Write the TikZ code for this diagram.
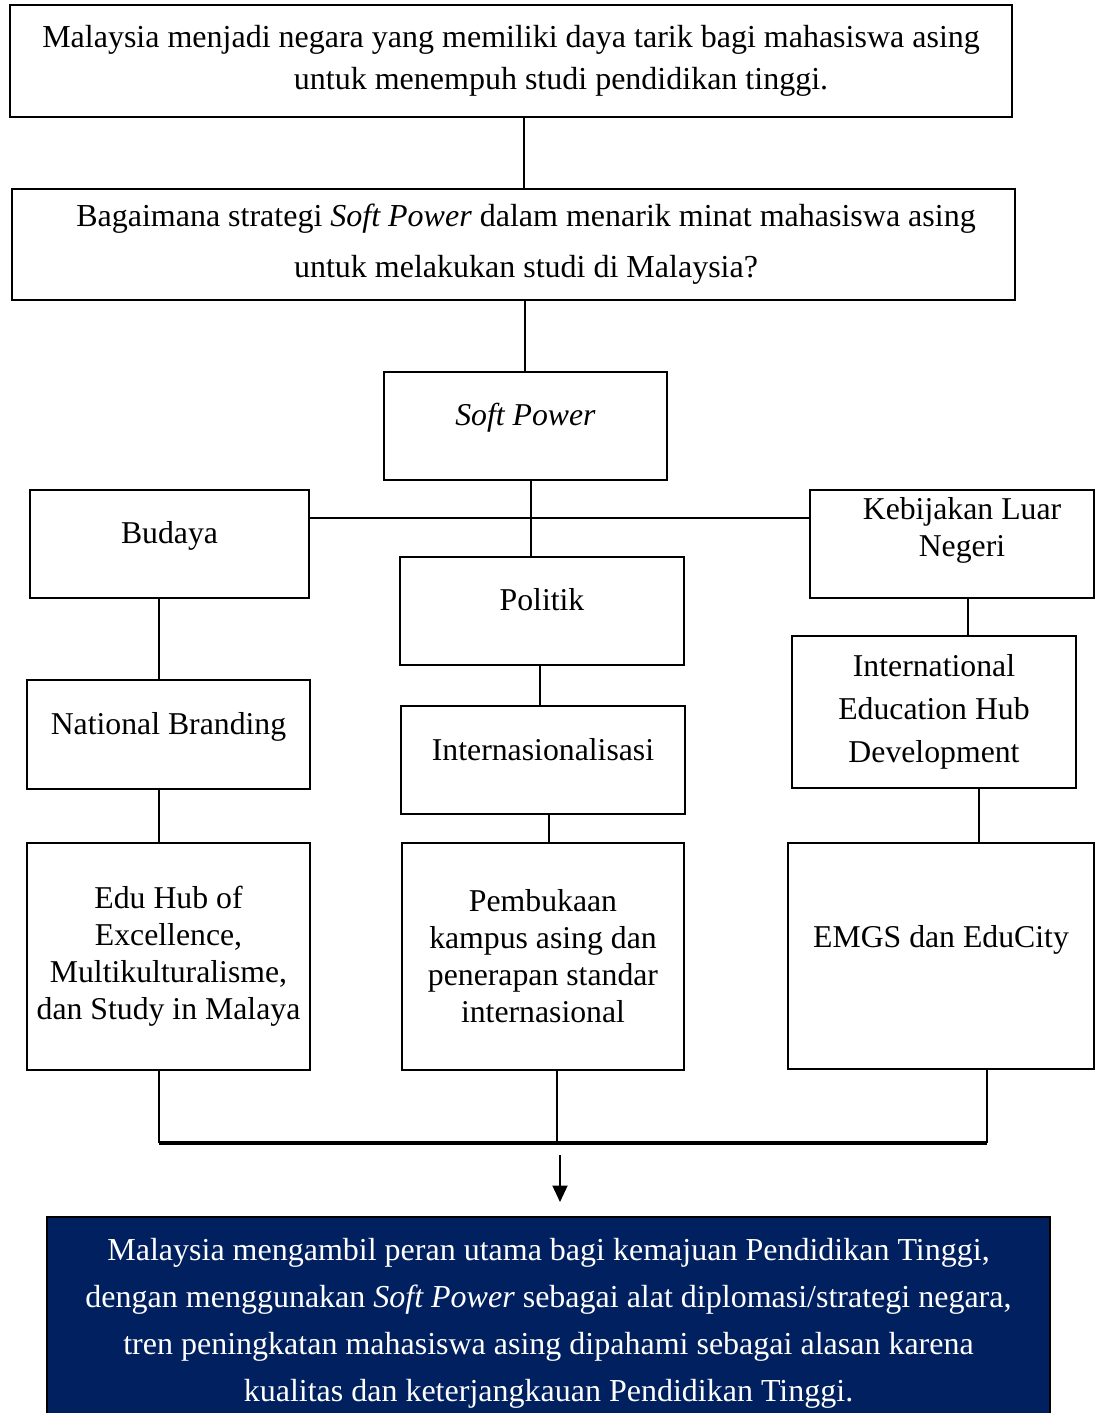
\documentclass[tikz,border=0pt]{standalone}
\usepackage{fontspec}
\setmainfont{Liberation Serif}
\usetikzlibrary{arrows.meta, positioning, calc}
\newcommand{\pxu}{0.4pt}
\definecolor{navyblue}{HTML}{002060}

\begin{document}
\begin{tikzpicture}[
		x=\pxu, y=-\pxu,
		box/.style 2 args={draw, line width=0.8pt, minimum width=#1*\pxu, minimum height=#2*\pxu, align=center, inner sep=2pt},
		txt/.style 2 args={font=\fontsize{#1}{#2}\selectfont},
		lift/.style={text depth=#1*\pxu},
		conn/.style={line width=0.8pt},
		txt={12.7}{14.8}
	]
	\useasboundingbox (0,0) rectangle (1099,1413);

	\node[box={1002}{112}, txt={12.8}{16.8}] (top) at (511,61) {Malaysia menjadi negara yang memiliki daya tarik bagi mahasiswa asing\\ \hspace*{40pt}untuk menempuh studi pendidikan tinggi.};
	\node[box={1003}{111}, txt={12.8}{20.4}] (question) at (513.5,244.5) {\hspace*{10pt}Bagaimana strategi \textit{Soft Power} dalam menarik minat mahasiswa asing\\ \hspace*{10pt}untuk melakukan studi di Malaysia?};
	\node[box={283}{108}, lift=23] (soft) at (525.5,426) {\textit{Soft Power}};

	\node[box={279}{108}, lift=23] (budaya) at (169.5,544) {Budaya};
	\node[box={284}{108}, lift=23] (politik) at (542,611) {Politik};
	\node[box={284}{108}, lift=35] (kebijakan) at (952,544) {\hspace*{8pt}Kebijakan Luar\\ \hspace*{8pt}Negeri};

	\node[box={283}{109}, lift=23] (branding) at (168.5,734.5) {National Branding};
	\node[box={284}{108}, lift=21] (intl) at (543,760) {Internasionalisasi};
	\node[box={284}{152}, txt={12.7}{17.2}] (hub) at (934,712) {International\\ Education Hub\\ Development};

	\node[box={283}{227}] (eduhub) at (168.5,956.5) {Edu Hub of\\ Excellence,\\ Multikulturalisme,\\ dan Study in Malaya};
	\node[box={282}{227}] (kampus) at (543,956.5) {Pembukaan\\ kampus asing dan\\ penerapan standar\\ internasional};
	\node[box={306}{226}, lift=39] (emgs) at (941,956) {EMGS dan EduCity};

	\node[box={1003}{212}, fill=navyblue, text=white, txt={12.8}{18.8}, anchor=north] (result) at (548.5,1216) {Malaysia mengambil peran utama bagi kemajuan Pendidikan Tinggi,\\ dengan menggunakan \textit{Soft Power} sebagai alat diplomasi/strategi negara,\\ tren peningkatan mahasiswa asing dipahami sebagai alasan karena\\ kualitas dan keterjangkauan Pendidikan Tinggi.};

	% upper chain
	\draw[conn] ([xshift=13*\pxu]top.south) -- ([xshift=13*\pxu]top.south |- question.north);
	\draw[conn] ([xshift=-1*\pxu]soft.north) -- ([xshift=-1*\pxu]soft.north |- question.south);
	\coordinate (split) at (531,518);
	\draw[conn] (soft.south -| split) -- (politik.north -| split);
	\draw[conn] (budaya.east |- split) -- (kebijakan.west |- split);

	% three columns
	\draw[conn] ([xshift=-11*\pxu]budaya.south) -- ([xshift=-11*\pxu]budaya.south |- branding.north);
	\draw[conn] ([xshift=-10*\pxu]branding.south) -- ([xshift=-10*\pxu]branding.south |- eduhub.north);
	\draw[conn] ([xshift=-2*\pxu]politik.south) -- ([xshift=-2*\pxu]politik.south |- intl.north);
	\draw[conn] ([xshift=6*\pxu]intl.south) -- ([xshift=6*\pxu]intl.south |- kampus.north);
	\draw[conn] ([xshift=16*\pxu]kebijakan.south) -- ([xshift=16*\pxu]kebijakan.south |- hub.north);
	\draw[conn] ([xshift=45*\pxu]hub.south) -- ([xshift=45*\pxu]hub.south |- emgs.north);

	% merge and result
	\coordinate (merge) at (557,1143);
	\draw[conn] ([xshift=-10*\pxu]eduhub.south) -- ([xshift=-10*\pxu]eduhub.south |- merge);
	\draw[conn] ([xshift=14*\pxu]kampus.south) -- ([xshift=14*\pxu]kampus.south |- merge);
	\draw[conn] ([xshift=46*\pxu]emgs.south) -- ([xshift=46*\pxu]emgs.south |- merge);
	\draw[line width=1.4pt] ([xshift=-10*\pxu]eduhub.south |- merge) -- ([xshift=46*\pxu]emgs.south |- merge);
	\coordinate (arrtop) at (560,1155);
	\draw[conn, -{Triangle[width=6pt, length=6.6pt]}, shorten >=14*\pxu] (arrtop) -- (result.north -| arrtop);
\end{tikzpicture}
\end{document}
